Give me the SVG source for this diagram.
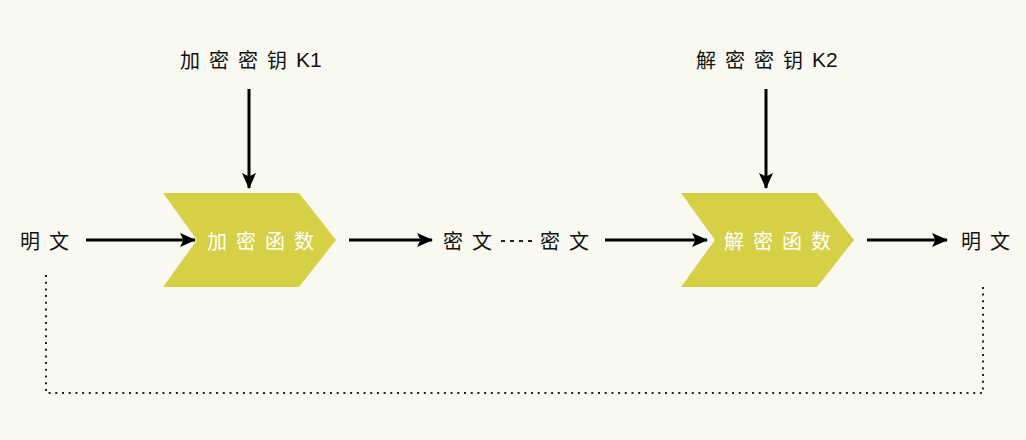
<svg xmlns="http://www.w3.org/2000/svg" width="1026" height="440" viewBox="0 0 1026 440">
<defs>
<style>
.t{font-family:"Noto Sans CJK SC","Liberation Sans",sans-serif;font-size:20px;fill:#111;letter-spacing:9px;dominant-baseline:central}
.w{fill:#ffffff}
.k{letter-spacing:0px;font-family:"Liberation Sans","Noto Sans CJK SC",sans-serif;font-size:21px}
.ln{stroke:#000;stroke-width:3;fill:none}
.dot{stroke:#222;stroke-width:2;fill:none;stroke-dasharray:2 4.7}
.chev{fill:#d6d047}
</style>
<marker id="ah2" viewBox="0 0 16 14" refX="15" refY="7" markerWidth="16" markerHeight="14" markerUnits="userSpaceOnUse" orient="auto">
<path d="M0,0 L16,7 L0,14 L3.5,7 Z" fill="#000"/>
</marker>
</defs>
<rect width="1026" height="440" fill="#f9f8f1"/>
<g id="connectors">
<line class="ln" x1="86" y1="240" x2="195" y2="240" marker-end="url(#ah2)"/>
<line class="ln" x1="349" y1="240" x2="432" y2="240" marker-end="url(#ah2)"/>
<line class="ln" x1="605" y1="240" x2="707" y2="240" marker-end="url(#ah2)"/>
<line class="ln" x1="867" y1="240" x2="947" y2="240" marker-end="url(#ah2)"/>
<line class="ln" x1="249" y1="89" x2="249" y2="188" marker-end="url(#ah2)"/>
<line class="ln" x1="766" y1="89" x2="766" y2="188" marker-end="url(#ah2)"/>
<path class="dot" d="M46,275 L46,393 L983,393 L983,283"/>
</g>
<g id="plain-left"><text class="t" x="20" y="240">明文</text></g>
<g id="key1"><text class="t" x="180" y="59">加密密钥<tspan class="k" x="296">K1</tspan></text></g>
<g id="encrypt">
<polygon class="chev" points="163,193 299,193 336,240 299,287 163,287 197,240"/>
<text class="t w" x="207" y="240">加密函数</text>
</g>
<g id="cipher">
<text class="t" x="443" y="240">密文</text>
<line x1="501" y1="241" x2="533" y2="241" stroke="#222" stroke-width="2" stroke-dasharray="4 5"/>
<text class="t" x="540" y="240">密文</text>
</g>
<g id="key2"><text class="t" x="696" y="59">解密密钥<tspan class="k" x="812">K2</tspan></text></g>
<g id="decrypt">
<polygon class="chev" points="681,193 817,193 854,240 817,287 681,287 715,240"/>
<text class="t w" x="724" y="240">解密函数</text>
</g>
<g id="plain-right"><text class="t" x="961" y="240">明文</text></g>
</svg>
